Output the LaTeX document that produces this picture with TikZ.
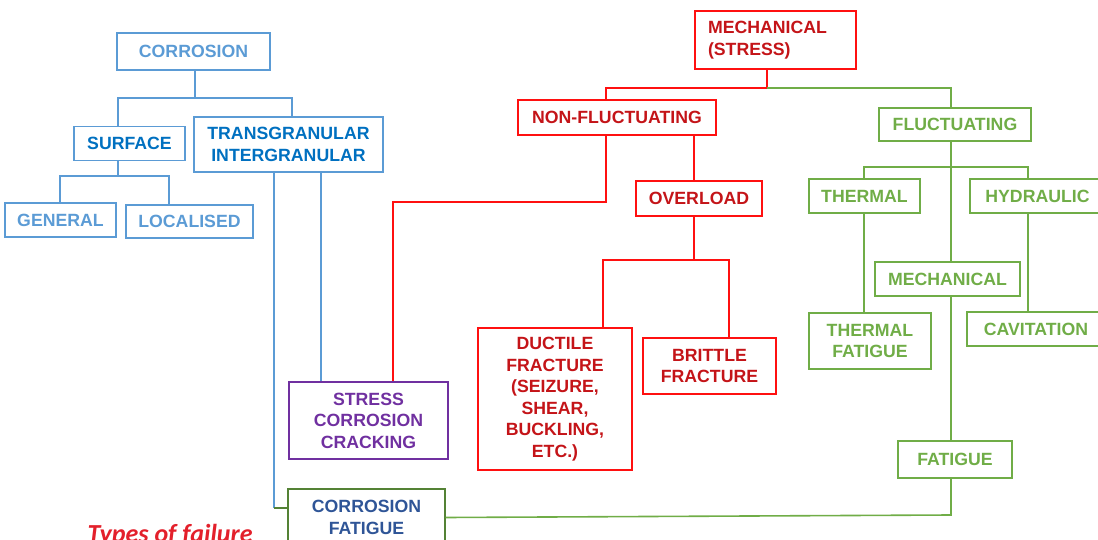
\documentclass[tikz,border=0pt]{standalone}
\usepackage{fontspec}
\setmainfont{Liberation Sans}
\newfontfamily\carl{Carlito}
\definecolor{lb}{HTML}{5B9BD5}
\definecolor{db}{HTML}{0070C0}
\definecolor{pu}{HTML}{7030A0}
\definecolor{cfb}{HTML}{548235}
\definecolor{cft}{HTML}{2F5597}
\definecolor{gr}{HTML}{70AD47}
\definecolor{rb}{HTML}{FF1010}
\definecolor{rt}{HTML}{C41418}
\definecolor{tf}{HTML}{E3202B}
\tikzset{
  box/.style={draw, line width=1.4pt, align=center, inner sep=0pt,
    font=\bfseries\fontsize{17.7}{21.5}\selectfont},
  bluebox/.style={box, draw=lb, text=lb},
  dbluebox/.style={box, draw=lb, text=db},
  redbox/.style={box, draw=rb, text=rt},
  greenbox/.style={box, draw=gr, text=gr},
  bl/.style={draw=lb, line width=1.4pt},
  rl/.style={draw=rb, line width=1.4pt},
  rlt/.style={draw=rb, line width=2.2pt},
  gl/.style={draw=gr, line width=1.6pt},
}
\begin{document}
\begin{tikzpicture}[x=1pt,y=-1pt]
\useasboundingbox (0,0) rectangle (1098,540);
% corrosion side
\node[bluebox, minimum width=153, minimum height=37] (corr) at (193.5,51.5) {CORROSION};
\node[dbluebox, minimum width=111, minimum height=34] (surf) at (129.5,143.5) {SURFACE};
\node[dbluebox, minimum width=189, minimum height=55] (trans) at (288.5,144.5) {TRANSGRANULAR\\INTERGRANULAR};
\node[bluebox, minimum width=111, minimum height=34] (gen) at (60.5,220) {GENERAL};
\node[bluebox, minimum width=127, minimum height=33] (loc) at (189.5,221.5) {LOCALISED};
\node[box, draw=pu, text=pu, minimum width=159, minimum height=77] (scc) at (368.5,420.5) {STRESS\\CORROSION\\CRACKING};
\node[box, draw=cfb, text=cft, minimum width=157, minimum height=57] (cf) at (366.5,517.5) {CORROSION\\FATIGUE};
% mechanical side
\node[redbox, minimum width=161, minimum height=58, align=left, text width=135] (mech) at (775.5,40) {MECHANICAL\\(STRESS)};
\node[redbox, minimum width=198, minimum height=35] (nonf) at (617,117.5) {NON-FLUCTUATING};
\node[redbox, minimum width=126, minimum height=35] (over) at (699,198.5) {OVERLOAD};
\node[redbox, minimum width=154, minimum height=142] (duct) at (555,399) {DUCTILE\\FRACTURE\\(SEIZURE,\\SHEAR,\\BUCKLING,\\ETC.)};
\node[redbox, minimum width=133, minimum height=56] (brit) at (709.5,366) {BRITTLE\\FRACTURE};
\node[greenbox, minimum width=152, minimum height=33] (fluc) at (955,124.5) {FLUCTUATING};
\node[greenbox, minimum width=111, minimum height=34] (therm) at (864.5,196) {THERMAL};
\node[greenbox, minimum width=135, minimum height=34] (hyd) at (1037.5,196) {HYDRAULIC};
\node[greenbox, minimum width=145, minimum height=34] (mechg) at (947.5,279) {MECHANICAL};
\node[greenbox, minimum width=122, minimum height=56] (tfat) at (870,341) {THERMAL\\FATIGUE};
\node[greenbox, minimum width=138, minimum height=34] (cav) at (1036,329) {CAVITATION};
\node[greenbox, minimum width=114, minimum height=37] (fat) at (955,459.5) {FATIGUE};
\node[anchor=base west, text=tf, font=\carl\bfseries\itshape\fontsize{26}{30}\selectfont] (title) at (84,542) {Types of failure};
% corrosion connectors
\coordinate (c0) at (195,98);
\coordinate (c1) at (118,98);
\coordinate (c2) at (292,98);
\draw[bl] (corr.south -| c0) -- (c0);
\draw[bl] (c1 |- surf.north) -- (c1) -- (c2) -- (c2 |- trans.north);
\coordinate (s0) at (118,176);
\coordinate (s1) at (60,176);
\coordinate (s2) at (169,176);
\draw[bl] (surf.south -| s0) -- (s0);
\draw[bl] (s1 |- gen.north) -- (s1) -- (s2) -- (s2 |- loc.north);
\coordinate (t1) at (321,0);
\draw[bl] (trans.south -| t1) -- (scc.north -| t1);
\coordinate (t2) at (274,508);
\draw[bl] (trans.south -| t2) -- (t2);
\draw[draw=cfb, line width=1.4pt] (t2) -- (cf.west |- t2);
% mechanical connectors
\coordinate (m1) at (767,88);
\coordinate (m2) at (606,88);
\coordinate (m3) at (951,88);
\draw[rl] (mech.south -| m1) -- (m1) -- (m2) -- (m2 |- nonf.north);
\draw[gl] (m1) -- (m3) -- (m3 |- fluc.north);
\coordinate (r1) at (606,202);
\coordinate (r2) at (393,202);
\draw[rlt] (nonf.south -| r1) -- (r1) -- (r2) -- (r2 |- scc.north);
\coordinate (o1) at (694,260);
\coordinate (o2) at (603,260);
\coordinate (o3) at (729,260);
\draw[rl] (nonf.south -| o1) -- (over.north -| o1);
\draw[rl] (over.south -| o1) -- (o1);
\draw[rl] (o2 |- duct.north) -- (o2) -- (o3) -- (o3 |- brit.north);
% fluctuating connectors
\coordinate (g0) at (951,167);
\coordinate (g1) at (864,167);
\coordinate (g2) at (1028,167);
\draw[gl] (fluc.south -| g0) -- (mechg.north -| g0);
\draw[gl] (g1 |- therm.north) -- (g1) -- (g2) -- (g2 |- hyd.north);
\draw[gl] (therm.south -| g1) -- (tfat.north -| g1);
\draw[gl] (hyd.south -| g2) -- (cav.north -| g2);
\draw[gl] (mechg.south -| g0) -- (fat.north -| g0);
\coordinate (f1) at (951,515);
\draw[gl] (cf.east) -- (f1) -- (fat.south -| f1);
\end{tikzpicture}
\end{document}
